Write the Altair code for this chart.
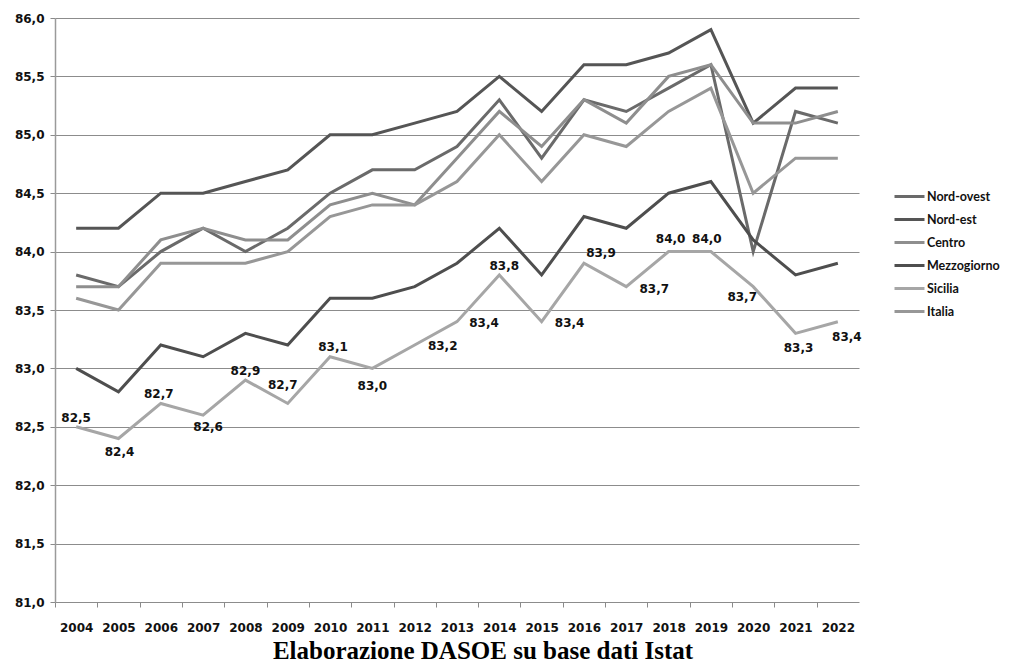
import altair as alt
import pandas as pd

years = list(range(2004, 2023))
nord_ovest = [83.8, 83.7, 84.0, 84.2, 84.0, 84.2, 84.5, 84.7, 84.7, 84.9, 85.3, 84.8, 85.3, 85.2, 85.4, 85.6, 84.0, 85.2, 85.1]
nord_est = [84.2, 84.2, 84.5, 84.5, 84.6, 84.7, 85.0, 85.0, 85.1, 85.2, 85.5, 85.2, 85.6, 85.6, 85.7, 85.9, 85.1, 85.4, 85.4]
centro = [83.7, 83.7, 84.1, 84.2, 84.1, 84.1, 84.4, 84.5, 84.4, 84.8, 85.2, 84.9, 85.3, 85.1, 85.5, 85.6, 85.1, 85.1, 85.2]
mezzogiorno = [83.0, 82.8, 83.2, 83.1, 83.3, 83.2, 83.6, 83.6, 83.7, 83.9, 84.2, 83.8, 84.3, 84.2, 84.5, 84.6, 84.1, 83.8, 83.9]
sicilia = [82.5, 82.4, 82.7, 82.6, 82.9, 82.7, 83.1, 83.0, 83.2, 83.4, 83.8, 83.4, 83.9, 83.7, 84.0, 84.0, 83.7, 83.3, 83.4]
italia = [83.6, 83.5, 83.9, 83.9, 83.9, 84.0, 84.3, 84.4, 84.4, 84.6, 85.0, 84.6, 85.0, 84.9, 85.2, 85.4, 84.5, 84.8, 84.8]

series_names = ["Nord-ovest", "Nord-est", "Centro", "Mezzogiorno", "Sicilia", "Italia"]
series_values = [nord_ovest, nord_est, centro, mezzogiorno, sicilia, italia]
y_ticks = [81.0, 81.5, 82.0, 82.5, 83.0, 83.5, 84.0, 84.5, 85.0, 85.5, 86.0]

# styles
colors = ["#6a6a6a", "#555555", "#8e8e8e", "#4e4e4e", "#a6a6a6", "#979797"]
# label offsets (dx, dy) for Sicilia data labels, per year
label_offsets = {
    2004: (0, -9), 2005: (1, 14), 2006: (-2, -9), 2007: (5, 12), 2008: (0, -9),
    2009: (-5, -18), 2010: (3, -10), 2011: (0, 18), 2012: (28, 1), 2013: (27, 1),
    2014: (5, -9), 2015: (28, 1), 2016: (17, -10), 2017: (28, 2), 2018: (2, -13),
    2019: (-4, -13), 2020: (-11, 10), 2021: (3, 15), 2022: (9, 15),
}

rows = []
for name, vals in zip(series_names, series_values):
    for yr, v in zip(years, vals):
        rows.append({"Anno": str(yr), "Serie": name, "Valore": v})
df = pd.DataFrame(rows)
sic = pd.DataFrame({"Anno": [str(y) for y in years], "Valore": sicilia})

W, H = 804, 584
half = W / 38
xenc = alt.X("Anno:N", sort=[str(y) for y in years], title=None,
             scale=alt.Scale(type="point", padding=0.5),
             axis=alt.Axis(tickOffset=-half, labelOffset=half, labelAngle=0,
                           labelFont="DejaVu Sans", labelFontWeight="bold",
                           labelFontSize=12, labelColor="#111111", labelPadding=15,
                           tickColor="#8a8a8a", tickSize=5, domain=False, grid=False))
yenc = alt.Y("Valore:Q", title=None,
             scale=alt.Scale(domain=[81, 86], nice=False, zero=False),
             axis=alt.Axis(values=y_ticks, labelExpr="replace(format(datum.value, '.1f'), '.', ',')",
                           labelFont="DejaVu Sans", labelFontWeight="bold", labelFontSize=12,
                           labelColor="#111111", labelPadding=6,
                           grid=True, gridColor="#8c8c8c", gridWidth=1,
                           domain=True, domainColor="#9a9a9a", domainWidth=1.5,
                           tickColor="#8a8a8a", tickSize=5))

lines = alt.Chart(df).mark_line(strokeWidth=3).encode(
    x=xenc, y=yenc,
    color=alt.Color("Serie:N", sort=series_names,
                    scale=alt.Scale(domain=series_names, range=colors),
                    legend=alt.Legend(title=None, orient="none", legendX=838, legendY=162,
                                      symbolType="stroke", symbolSize=900, symbolStrokeWidth=3,
                                      labelFont="Lato", labelFontWeight="bold", labelFontSize=12.5,
                                      labelColor="#111111", labelOffset=1, rowPadding=-2,
                                      labelLimit=200, padding=0)),
    order=alt.Order("Serie:N"),
)

label_layers = []
for yr in years:
    dx, dy = label_offsets[yr]
    label_layers.append(
        alt.Chart(sic).transform_filter(alt.datum.Anno == str(yr)).transform_calculate(
            lab="replace(format(datum.Valore, '.1f'), '.', ',')"
        ).mark_text(font="DejaVu Sans", fontWeight="bold", fontSize=12, color="#111111",
                    baseline="middle", align="center", dx=dx, dy=dy).encode(
            x=alt.X("Anno:N", sort=[str(y) for y in years]), y="Valore:Q", text="lab:N")
    )

chart = alt.layer(lines, *label_layers).properties(
    width=W, height=H,
    autosize=alt.AutoSizeParams(type="none"),
    padding={"left": 47, "top": 10, "right": 145, "bottom": 66},
    title=alt.TitleParams("Elaborazione DASOE su base dati Istat", orient="bottom",
                          anchor="middle", frame="group", dx=26, offset=6,
                          font="Liberation Serif", fontSize=25, fontWeight="bold",
                          color="#000000"),
).configure_view(stroke=None)

chart.save("out.html", embed_options={"renderer": "svg", "actions": False})
